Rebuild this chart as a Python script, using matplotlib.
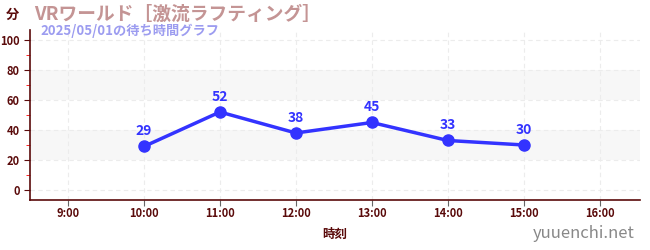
import matplotlib
matplotlib.use("Agg")
import matplotlib.pyplot as plt
from matplotlib.ticker import MultipleLocator

plt.rcParams['font.family'] = ['Noto Sans CJK JP', 'DejaVu Sans']

# data
hours = [10, 11, 12, 13, 14, 15]
waits = [29, 52, 38, 45, 33, 30]
tick_hours = [9, 10, 11, 12, 13, 14, 15, 16]
tick_labels = ["9:00", "10:00", "11:00", "12:00", "13:00", "14:00", "15:00", "16:00"]
title = "VRワールド［激流ラフティング］"
subtitle = "2025/05/01の待ち時間グラフ"

dark = "#5a0a0a"
blue = "#3333ff"

fig = plt.figure(figsize=(6.5, 2.5), dpi=100)
ax = fig.add_axes([30/650, 50/250, 610/650, 170/250])

ax.set_xlim(8.5, 16.53)
ax.set_ylim(-6.7, 106.7)

# shaded bands
for lo, hi in [(20, 40), (60, 80)]:
    ax.axhspan(lo, hi, color="#f7f7f7", zorder=0, lw=0)

ax.set_xticks(tick_hours)
ax.set_xticklabels(tick_labels)
ax.set_yticks(range(0, 101, 20))
ax.yaxis.set_minor_locator(MultipleLocator(10))
ax.grid(True, which="major", color="#ececec", ls=(0, (4, 3)), lw=0.8)
ax.set_axisbelow(True)

for s in ["top", "right"]:
    ax.spines[s].set_visible(False)
for s in ["left", "bottom"]:
    ax.spines[s].set_color(dark)
    ax.spines[s].set_linewidth(1.2)

ax.tick_params(axis="both", which="major", colors=dark, labelsize=8, length=4)
ax.tick_params(axis="x", colors="#666666", labelcolor=dark, pad=1)
ax.tick_params(axis="y", which="minor", colors="red", length=3)
for lab in ax.get_xticklabels() + ax.get_yticklabels():
    lab.set_fontweight("bold")

ax.plot(hours, waits, color=blue, lw=2.5, marker="o", ms=8, zorder=3)
for h, w in zip(hours, waits):
    ax.annotate(str(w), (h, w), xytext=(0, 6), textcoords="offset points",
                ha="center", va="bottom", color=blue, fontsize=10, fontweight="bold")

ax.set_xlabel("時刻", color=dark, fontsize=9, fontweight="bold", labelpad=6)

fig.text(6/650, 1 - 15/250, "分", color=dark, fontsize=9.5, fontweight="bold", va="center")
fig.text(34/650, 1 - 14/250, title, color="#c49494", fontsize=13.5, fontweight="bold", va="center")
fig.text(40/650, 1 - 31/250, subtitle, color="#9c9cf0", fontsize=9.5, fontweight="bold", va="center")
fig.text(635/650, 1 - 234/250, "yuuenchi.net", color="#888888", fontsize=12,
         ha="right", va="center")

fig.savefig("out.png", dpi=100)
